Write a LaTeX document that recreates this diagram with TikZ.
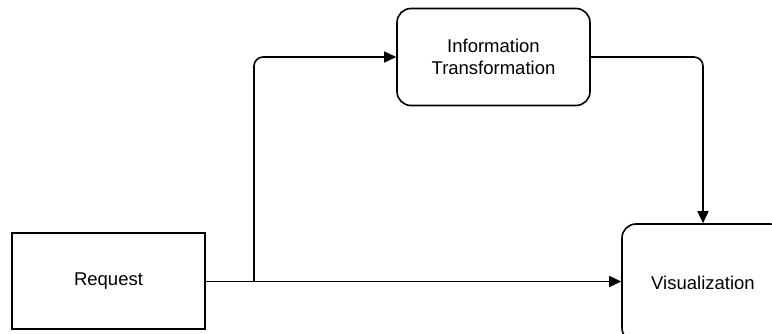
\documentclass[tikz,border=0pt]{standalone}
\usepackage{fontspec}
\setmainfont{Liberation Sans}
\usetikzlibrary{arrows.meta}

\begin{document}
\begin{tikzpicture}[x=1pt, y=-1pt, line width=1.6pt,
  every node/.style={draw, font=\fontsize{18.5}{22}\selectfont, align=center, inner sep=0pt},
  block/.style={minimum width=193pt, minimum height=96pt},
  roundbox/.style={rounded corners=14pt},
  flow/.style={-{Triangle[length=12pt, width=11pt]}, rounded corners=9pt}]
  \clip (0,0) rectangle (772,334);
  \node (request) [block] at (108.5, 281) {Request};
  \node (info) [block, roundbox, minimum height=97pt] at (493.5, 57) {Information\\Transformation};
  \node (visual) [roundbox, minimum width=162pt, minimum height=118pt] at (703, 283) {Visualization};
  \coordinate (split) at (254, 281.5);
  \draw[flow] (request.east |- split) -- (visual.west |- split);
  \draw[flow] (split) |- (info.west);
  \draw[flow] (info.east) -| (visual.north);
\end{tikzpicture}
\end{document}
